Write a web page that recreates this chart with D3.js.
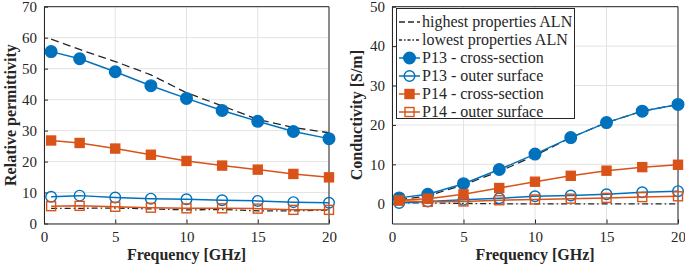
<!DOCTYPE html>
<html>
<head>
<meta charset="utf-8">
<script src="https://cdn.jsdelivr.net/npm/d3@7"></script>
<style>
  body { margin: 0; background: #fff; }
  text { font-family: 'Liberation Serif', 'Times New Roman', serif; fill: #262626; }
</style>
</head>
<body>
<div id="chart"></div>
<script>
const freq = [0.5, 2.5, 5, 7.5, 10, 12.5, 15, 17.5, 20]
const xTicks = [0, 5, 10, 15, 20]

// relative permittivity
const permHighAln = [59.5, 56.2, 52.3, 48, 42.2, 38, 33.6, 31, 29.3]
const permLowAln = [4.9, 4.9, 5.0, 4.7, 4.4, 4.5, 4.1, 4.1, 4.3]
const permP13Cross = [55.5, 53.2, 49, 44.5, 40.4, 36.5, 33, 29.7, 27.4]
const permP13Outer = [8.6, 9.0, 8.4, 8.0, 7.8, 7.5, 7.3, 6.9, 6.7]
const permP14Cross = [26.8, 26.0, 24.2, 22.2, 20.2, 18.7, 17.4, 16.0, 14.9]
const permP14Outer = [5.6, 5.7, 5.4, 5.1, 4.9, 4.9, 4.8, 4.4, 4.4]
const permTicks = [0, 10, 20, 30, 40, 50, 60, 70]

// conductivity
const condHighAln = [1.0, 2.0, 4.8, 8.2, 12.2, 16.8, 20.6, 23.5, 25.2]
const condLowAln = [0.3, 0.2, 0.1, 0.0, 0.0, 0.0, 0.0, 0.0, 0.0]
const condP13Cross = [1.5, 2.4, 5.1, 8.7, 12.6, 16.8, 20.6, 23.5, 25.2]
const condP13Outer = [0.2, 0.6, 1.0, 1.4, 1.9, 2.1, 2.4, 2.9, 3.2]
const condP14Cross = [0.9, 1.3, 2.4, 4.0, 5.6, 7.1, 8.4, 9.3, 9.9]
const condP14Outer = [0.8, 0.5, 0.6, 0.9, 1.1, 1.3, 1.5, 1.7, 1.9]
const condTicks = [0, 10, 20, 30, 40, 50]

const legendLabels = [
  'highest properties ALN',
  'lowest properties ALN',
  'P13 - cross-section',
  'P13 - outer surface',
  'P14 - cross-section',
  'P14 - outer surface'
]

const blue = '#0072BD'
const orange = '#D95319'

const styles = [
  { color: '#262626', dash: '8,4.5', marker: null },
  { color: '#262626', dash: '6,3,1.5,3', marker: null },
  { color: blue, dash: null, marker: 'circle', fill: true },
  { color: blue, dash: null, marker: 'circle', fill: false },
  { color: orange, dash: null, marker: 'square', fill: true },
  { color: orange, dash: null, marker: 'square', fill: false }
]

const width = 685
const height = 264

const svg = d3.select('#chart').append('svg')
  .attr('width', width)
  .attr('height', height)

svg.append('rect').attr('width', width).attr('height', height).attr('fill', '#fff')

const drawMarker = (g, style, x, y) => {
  if (style.marker === 'circle') {
    g.append('circle')
      .attr('cx', x).attr('cy', y).attr('r', style.fill ? 5.8 : 5.3)
      .attr('fill', style.fill ? style.color : 'none')
      .attr('stroke', style.color).attr('stroke-width', 1.4)
  } else if (style.marker === 'square') {
    const s = 9
    g.append('rect')
      .attr('x', x - s / 2).attr('y', y - s / 2).attr('width', s).attr('height', s)
      .attr('fill', style.fill ? style.color : 'none')
      .attr('stroke', style.color).attr('stroke-width', 1.4)
  }
}

const drawPanel = ({ left, right, top, bottom, yDomain, yTicks, series, yLabel, yLabelX }) => {
  const x = d3.scaleLinear().domain([0, 20]).range([left, right])
  const y = d3.scaleLinear().domain(yDomain).range([bottom, top])
  const g = svg.append('g')

  // grid
  g.append('g').selectAll('line').data(xTicks).join('line')
    .attr('x1', d => x(d)).attr('x2', d => x(d))
    .attr('y1', top).attr('y2', bottom)
    .attr('stroke', '#e3e3e3').attr('stroke-width', 1)
  g.append('g').selectAll('line').data(yTicks).join('line')
    .attr('x1', left).attr('x2', right)
    .attr('y1', d => y(d)).attr('y2', d => y(d))
    .attr('stroke', '#e3e3e3').attr('stroke-width', 1)

  // axes
  const xAxis = g.append('g')
    .attr('transform', `translate(0,${bottom})`)
    .call(d3.axisBottom(x).tickValues(xTicks).tickSizeInner(-4).tickSizeOuter(0).tickPadding(8))
  const yAxis = g.append('g')
    .attr('transform', `translate(${left},0)`)
    .call(d3.axisLeft(y).tickValues(yTicks).tickSizeInner(-4).tickSizeOuter(0).tickPadding(7))
  ;[xAxis, yAxis].forEach(a => {
    a.select('.domain').attr('stroke', '#262626')
    a.selectAll('.tick line').attr('stroke', '#262626')
    a.selectAll('text').attr('font-size', 15).attr('font-family', 'Liberation Serif').attr('fill', '#262626')
  })
  // top / right box
  g.append('line').attr('x1', left).attr('x2', right).attr('y1', top).attr('y2', top)
    .attr('stroke', '#262626')
  g.append('line').attr('x1', right).attr('x2', right).attr('y1', top).attr('y2', bottom)
    .attr('stroke', '#262626')

  const line = d3.line().x((d, i) => x(freq[i])).y(d => y(d))

  series.forEach((values, i) => {
    const style = styles[i]
    g.append('path')
      .attr('d', line(values))
      .attr('fill', 'none')
      .attr('stroke', style.color)
      .attr('stroke-width', style.marker ? 1.5 : 1.3)
      .attr('stroke-dasharray', style.dash)
    values.forEach((v, j) => drawMarker(g, style, x(freq[j]), y(v)))
  })

  g.append('text')
    .attr('x', (left + right) / 2).attr('y', 260)
    .attr('text-anchor', 'middle')
    .attr('font-size', 16).attr('font-weight', 'bold')
    .text('Frequency [GHz]')
  g.append('text')
    .attr('transform', `translate(${yLabelX},${(top + bottom) / 2}) rotate(-90)`)
    .attr('text-anchor', 'middle')
    .attr('font-size', 16).attr('font-weight', 'bold')
    .text(yLabel)
  return { x, y }
}

drawPanel({
  left: 44, right: 329, top: 6.7, bottom: 223.5,
  yDomain: [0, 70], yTicks: permTicks,
  series: [permHighAln, permLowAln, permP13Cross, permP13Outer, permP14Cross, permP14Outer],
  yLabel: 'Relative permittivity', yLabelX: 16
})

drawPanel({
  left: 392, right: 678, top: 6.7, bottom: 223.5,
  yDomain: [-5, 50], yTicks: condTicks,
  series: [condHighAln, condLowAln, condP13Cross, condP13Outer, condP14Cross, condP14Outer],
  yLabel: 'Conductivity [S/m]', yLabelX: 362
})

// legend
const legend = svg.append('g')
legend.append('rect')
  .attr('x', 396.5).attr('y', 8.5).attr('width', 178).attr('height', 110)
  .attr('fill', '#fff').attr('stroke', '#262626').attr('stroke-width', 1)
legendLabels.forEach((label, i) => {
  const cy = 22 + i * 18
  const style = styles[i]
  legend.append('line')
    .attr('x1', 399).attr('x2', 420).attr('y1', cy).attr('y2', cy)
    .attr('stroke', style.color).attr('stroke-width', style.marker ? 1.5 : 1.3)
    .attr('stroke-dasharray', style.marker ? null : (i === 0 ? '6,3' : '3,2,1.5,2'))
  drawMarker(legend, style, 409.5, cy)
  legend.append('text')
    .attr('x', 422).attr('y', cy + 5)
    .attr('font-size', 16)
    .text(label)
})
</script>
</body>
</html>
